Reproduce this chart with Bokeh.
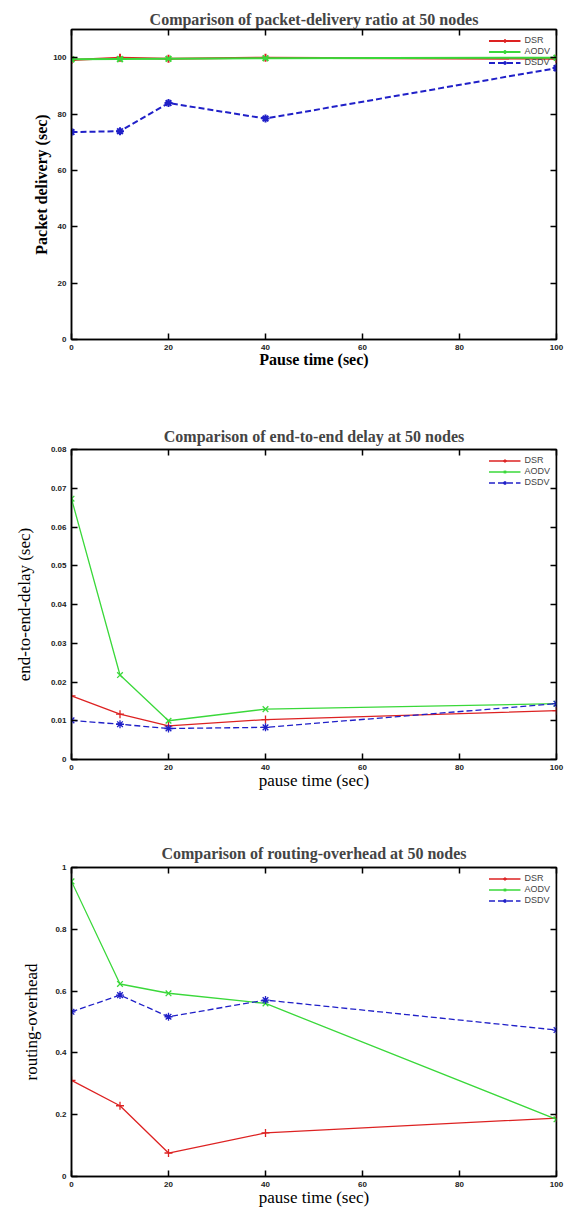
from bokeh.plotting import figure
from bokeh.layouts import column
from bokeh.models import LinearAxis, Range1d, FixedTicker, Legend, LegendItem
from bokeh.embed import file_html
from bokeh.resources import INLINE

# ---------------- data ----------------
pause = [0, 10, 20, 40, 100]
x_ticks = [0, 20, 40, 60, 80, 100]
x_tick_labels = ["0", "20", "40", "60", "80", "100"]

pdr_dsr = [99.2, 100.0, 99.6, 100.0, 99.6]
pdr_aodv = [99.4, 99.5, 99.6, 99.8, 100.0]
pdr_dsdv = [73.6, 73.9, 83.9, 78.4, 96.3]
pdr_yticks = [0, 20, 40, 60, 80, 100]
pdr_ylabels = ["0", "20", "40", "60", "80", "100"]

delay_dsr = [0.0164, 0.0117, 0.0087, 0.0103, 0.0126]
delay_aodv = [0.0673, 0.0218, 0.0100, 0.0130, 0.0144]
delay_dsdv = [0.0101, 0.0091, 0.0080, 0.0083, 0.0144]
delay_yticks = [0, 0.01, 0.02, 0.03, 0.04, 0.05, 0.06, 0.07, 0.08]
delay_ylabels = ["0", "0.01", "0.02", "0.03", "0.04", "0.05", "0.06", "0.07", "0.08"]

ovh_dsr = [0.311, 0.229, 0.076, 0.141, 0.189]
ovh_aodv = [0.955, 0.623, 0.593, 0.560, 0.185]
ovh_dsdv = [0.533, 0.587, 0.517, 0.571, 0.474]
ovh_yticks = [0, 0.2, 0.4, 0.6, 0.8, 1.0]
ovh_ylabels = ["0", "0.2", "0.4", "0.6", "0.8", "1"]

series_names = ["DSR", "AODV", "DSDV"]
colors = ["#dd2222", "#3ad83a", "#2020c8"]
markers = ["cross", "x", "asterisk"]
dashes = ["solid", "solid", "6 3"]

SERIF = "Liberation Serif"
SANS = "Liberation Sans"
X_END = 100


def mirror_axis(ticks, tick_in, tick_out, fixed=None):
    return LinearAxis(ticker=FixedTicker(ticks=ticks), fixed_location=fixed,
                      major_label_text_font_size="0px",
                      major_label_text_color=None, major_label_standoff=0,
                      axis_label_standoff=0,
                      major_tick_in=tick_in, major_tick_out=tick_out,
                      minor_tick_line_color=None,
                      axis_line_color="black", axis_line_width=1.5,
                      major_tick_line_width=1.5)


def make_chart(title, xlabel, ylabel, label_bold, ys, yrange, yticks, ylabels,
               height, b_left, b_right, b_top, b_bottom, lw, y_standoff, t_standoff):
    p = figure(width=565, height=height, x_range=Range1d(0, X_END),
               y_range=Range1d(*yrange), output_backend="svg",
               toolbar_location=None, min_border_left=b_left,
               min_border_right=b_right, min_border_top=b_top,
               min_border_bottom=b_bottom)
    p.title.text = title
    p.title.align = "center"
    p.title.text_font = SERIF
    p.title.text_font_style = "bold"
    p.title.text_font_size = "16px"
    p.title.standoff = t_standoff
    p.xgrid.grid_line_color = None
    p.ygrid.grid_line_color = None
    p.outline_line_color = "black"
    p.outline_line_width = 1.5
    p.background_fill_color = "white"
    p.border_fill_color = "white"

    p.xaxis.ticker = FixedTicker(ticks=x_ticks)
    p.xaxis.major_label_overrides = dict(zip(x_ticks, x_tick_labels))
    p.yaxis.ticker = FixedTicker(ticks=yticks)
    p.yaxis.major_label_overrides = dict(zip(yticks, ylabels))
    p.xaxis.axis_label = xlabel
    p.yaxis.axis_label = ylabel
    for ax in (p.xaxis[0], p.yaxis[0]):
        ax.major_tick_in = 6
        ax.major_tick_out = 0
        ax.minor_tick_line_color = None
        ax.axis_line_color = "black"
        ax.axis_line_width = 1.5
        ax.major_tick_line_width = 1.5
        ax.major_label_text_font = SANS
        ax.major_label_text_font_size = "8px"
        ax.major_label_text_font_style = "bold"
        ax.major_label_text_color = "#222222"
        ax.axis_label_text_font = SERIF
        ax.axis_label_text_font_size = "16px" if label_bold else "17px"
        ax.axis_label_text_font_style = "bold" if label_bold else "normal"
        ax.axis_label_text_color = "black"
    p.xaxis.major_label_standoff = 5
    p.xaxis.axis_label_standoff = -2
    p.yaxis.major_label_standoff = 5
    p.yaxis.axis_label_standoff = y_standoff

    # mirrored ticks: right edge (drawn from the left panel at the range end) and top
    p.add_layout(mirror_axis(yticks, 0, 6, fixed=X_END), "left")
    p.add_layout(mirror_axis(x_ticks, 6, 0), "above")

    items = []
    for name, yv, c, m, d in zip(series_names, ys, colors, markers, dashes):
        ln = p.line(pause, yv, line_color=c, line_width=lw, line_dash=d)
        sc = p.scatter(pause, yv, marker=m, size=8, line_color=c, line_width=lw,
                       fill_color=c)
        items.append(LegendItem(label=name, renderers=[ln, sc]))
    leg = Legend(items=items, location="top_right", border_line_color=None,
                 background_fill_alpha=0, label_text_font=SANS,
                 label_text_font_size="9px", glyph_width=32, glyph_height=9,
                 label_height=9, spacing=1, padding=2, margin=6, label_standoff=4)
    p.add_layout(leg)
    return p


p1 = make_chart("Comparison of packet-delivery ratio at 50 nodes",
                "Pause time (sec)", "Packet delivery (sec)", True,
                [pdr_dsr, pdr_aodv, pdr_dsdv], (0, 110), pdr_yticks, pdr_ylabels,
                400, 70, 3, 29, 61, 2.0, 0, 3)
p2 = make_chart("Comparison of end-to-end delay at 50 nodes",
                "pause time (sec)", "end-to-end-delay (sec)", False,
                [delay_dsr, delay_aodv, delay_dsdv], (0, 0.08), delay_yticks,
                delay_ylabels, 395, 69, 9, 49, 36, 1.3, 14, 9)
p3 = make_chart("Comparison of routing-overhead at 50 nodes",
                "pause time (sec)", "routing-overhead", False,
                [ovh_dsr, ovh_aodv, ovh_dsdv], (0, 1.0), ovh_yticks, ovh_ylabels,
                414, 71, 3, 72, 32, 1.3, 11, 11)

layout = column(p1, p2, p3, spacing=0)
open("out.html", "w").write(file_html(layout, INLINE))
